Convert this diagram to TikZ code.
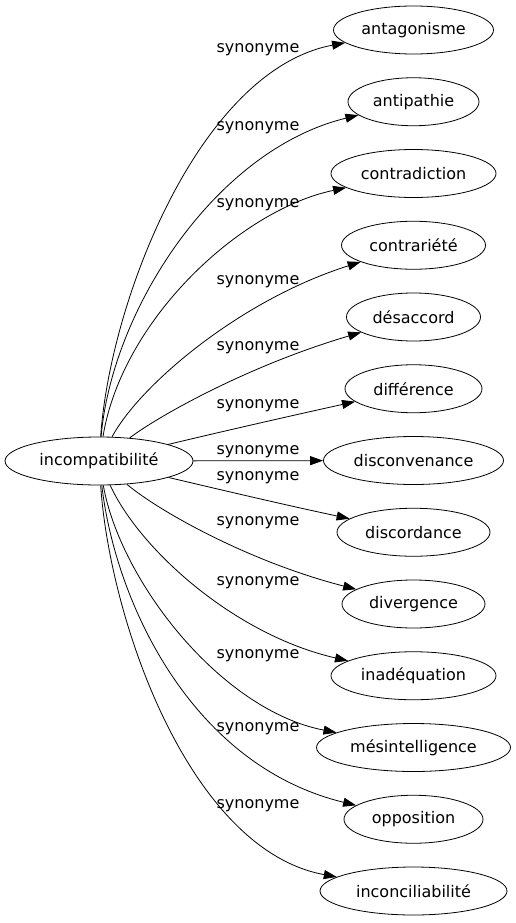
\documentclass[tikz,border=0pt]{standalone}
\usepackage{fontspec}
\setmainfont{DejaVu Sans}
\usetikzlibrary{shapes.geometric, arrows.meta}

\begin{document}
\begin{tikzpicture}[x=1pt, y=-1pt,
  font=\fontsize{16}{19}\selectfont,
  word/.style={ellipse, draw, line width=0.8pt, minimum height=48pt, inner sep=1pt},
  rel/.style={line width=0.8pt, -{Triangle[length=13pt, width=9pt]}}]
  % Frame
  \useasboundingbox (0,0) rectangle (515,923);
  % Root word
  \node[word, minimum width=188pt] (root) at (99,461) {incompatibilité};
  % Synonyms
  \foreach \n/\w [count=\k from 0] in {antagonisme/160, antipathie/131, contradiction/165, contrariété/144, désaccord/134, différence/137, disconvenance/180, discordance/153, divergence/143, inadéquation/165, mésintelligence/194, opposition/139, inconciliabilité/187}
    \node[word, minimum width=\w pt] (t\k) at (413.5,30+71.75*\k) {\n};
  % Labels
  \foreach \y [count=\k from 0] in {50,128,205,282,348,406,452,478,523,583,656,729,806}
    \node (lab\k) at (258,\y) {synonyme};
  % Edges
  \draw[rel] (root) .. controls (110,300) and (200,70) .. (t0);
  \draw[rel] (root) .. controls (112,310) and (215,150) .. (t1);
  \draw[rel] (root) .. controls (122,320) and (240,210) .. (t2);
  \draw[rel] (root) .. controls (140,385) and (240,300) .. (t3);
  \draw[rel] (root) .. controls (160,415) and (250,365) .. (t4);
  \draw[rel] (root) .. controls (220,432) and (290,416) .. (t5);
  \draw[rel] (root) -- (t6);
  \draw[rel] (root) .. controls (230,492) and (290,506) .. (t7);
  \draw[rel] (root) .. controls (160,512) and (250,562) .. (t8);
  \draw[rel] (root) .. controls (140,550) and (235,635) .. (t9);
  \draw[rel] (root) .. controls (120,580) and (220,710) .. (t10);
  \draw[rel] (root) .. controls (115,600) and (190,765) .. (t11);
  \draw[rel] (root) .. controls (110,622) and (190,850) .. (t12);
\end{tikzpicture}
\end{document}
